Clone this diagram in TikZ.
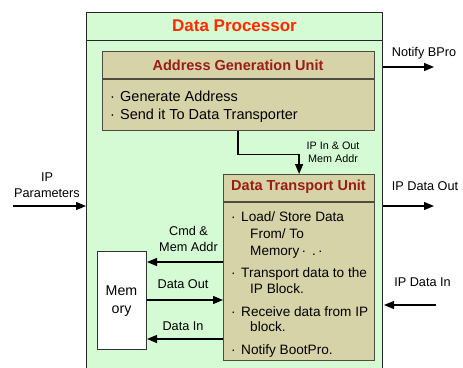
\documentclass[tikz,border=0pt]{standalone}
\usepackage{fontspec}
\setmainfont{Liberation Sans}
\usetikzlibrary{arrows.meta,calc}

\definecolor{panelgreen}{HTML}{D4FBD4}
\definecolor{unittan}{HTML}{D6D3A8}
\definecolor{unitedge}{HTML}{4E4C40}
\definecolor{headred}{HTML}{FF2A00}
\definecolor{unitred}{HTML}{9A1C12}

\tikzset{
  panel/.style={draw=black!85, line width=1bp, fill=panelgreen, inner sep=0,
                anchor=north west},
  unitbox/.style={draw=unitedge, line width=1.2bp, fill=unittan, inner sep=0,
                  anchor=north west},
  membox/.style={draw=black!80, line width=1bp, fill=white, inner sep=0,
                 anchor=north west},
  divider/.style={draw=unitedge, line width=1.2bp},
  paneltitle/.style={font=\fontsize{17bp}{19bp}\selectfont\bfseries,
                     text=headred, inner sep=0},
  unittitle/.style={font=\fontsize{14.5bp}{16bp}\selectfont\bfseries,
                    text=unitred, inner sep=0},
  itemtext/.style={font=\fontsize{13.6bp}{16bp}\selectfont, inner sep=0,
                   anchor=base west},
  bigitem/.style={itemtext, font=\fontsize{14.5bp}{16bp}\selectfont},
  label/.style={font=\fontsize{12.7bp}{16bp}\selectfont, inner sep=0,
                align=center},
  smalllabel/.style={font=\fontsize{10.8bp}{13bp}\selectfont, inner sep=0,
                     align=center},
  arr/.style={line width=1.3bp, -{Triangle[length=10bp,width=8bp]}},
}

\begin{document}
\begin{tikzpicture}[x=1bp,y=-1bp]
\useasboundingbox (0,0) rectangle (463,367);
\clip (0,0) rectangle (463,367);

% outer processor panel (runs past the lower edge)
\node[panel, minimum width=296bp, minimum height=380bp] (dp) at (86,12) {};
\draw[draw=black!85, line width=1bp] (86,40) -- (382,40);
\node[paneltitle] (dptitle) at (234.5,26) {Data Processor};

% address generation unit
\node[unitbox, minimum width=272bp, minimum height=79bp] (agu) at (102,51) {};
\draw[divider] (102,79) -- (374,79);
\node[unittitle] (agutitle) at (238,65) {Address Generation Unit};
\node[bigitem] (ab1) at (110,101) {·};
\node[bigitem] (a1) at (120,101) {Generate Address};
\node[bigitem] (ab2) at (110,119) {·};
\node[bigitem] (a2) at (120,119) {Send it To Data Transporter};

% data transport unit
\node[unitbox, minimum width=151bp, minimum height=186bp] (dtu) at (223,174) {};
\draw[divider] (223,202) -- (374,202);
\node[unittitle] (dtutitle) at (298.5,186.5) {Data Transport Unit};
\node[itemtext] (db1) at (231,221) {·};
\node[itemtext] (d1) at (241,221) {Load/ Store Data};
\node[itemtext] (d1b) at (250,238) {From/ To};
\node[itemtext] (d1c) at (250,255) {Memory\,·\, .\,·};
\node[itemtext] (db2) at (231,277) {·};
\node[itemtext] (d2) at (241,277) {Transport data to the};
\node[itemtext] (d2b) at (250,293) {IP Block.};
\node[itemtext] (db3) at (231,316) {·};
\node[itemtext] (d3) at (241,316) {Receive data from IP};
\node[itemtext] (d3b) at (250,331) {block.};
\node[itemtext] (db4) at (231,354) {·};
\node[itemtext] (d4) at (241,354) {Notify BootPro.};

% memory
\node[membox, minimum width=49bp, minimum height=98bp] (mem) at (97,251) {};
\node[label, font=\fontsize{14.2bp}{18bp}\selectfont] (memtext) at (121.5,301) {Mem\\ory};

% address path into the transport unit
\draw[arr] ([xshift=136bp]agu.south west) -- ++(0,23) -| (dtu.north);
\node[smalllabel] (addrlbl) at (333,152.5) {IP In \& Out\\Mem Addr};

% memory traffic
\coordinate (cmdy) at (0,262);
\coordinate (outy) at (0,300);
\coordinate (iny) at (0,339);
\draw[arr] (dtu.west |- cmdy) -- (mem.east |- cmdy);
\draw[arr] (mem.east |- outy) -- (dtu.west |- outy);
\draw[arr] (dtu.west |- iny) -- (mem.east |- iny);
\node[label] (cmdlbl) at (188.5,239) {Cmd \&\\Mem Addr};
\node[label] (outlbl) at (183,284.5) {Data Out};
\node[label] (inlbl) at (183,326) {Data In};

% external interface
\coordinate (paramsrc) at (13,206);
\coordinate (bprodst) at (434,67);
\coordinate (outdst) at (434,206);
\coordinate (insrc) at (436,305);
\draw[arr] (paramsrc) -- (dp.west |- paramsrc);
\draw[arr] (dp.east |- bprodst) -- (bprodst);
\draw[arr] (dp.east |- outdst) -- (outdst);
\draw[arr] (insrc) -- ([xshift=1bp]dp.east |- insrc);
\node[label] (paramlbl) at (47,185) {IP\\Parameters};
\node[label] (bprolbl) at (424,53) {Notify BPro};
\node[label] (outlbl2) at (425,186) {IP Data Out};
\node[label] (inlbl2) at (422.5,282.5) {IP Data In};
\end{tikzpicture}
\end{document}
